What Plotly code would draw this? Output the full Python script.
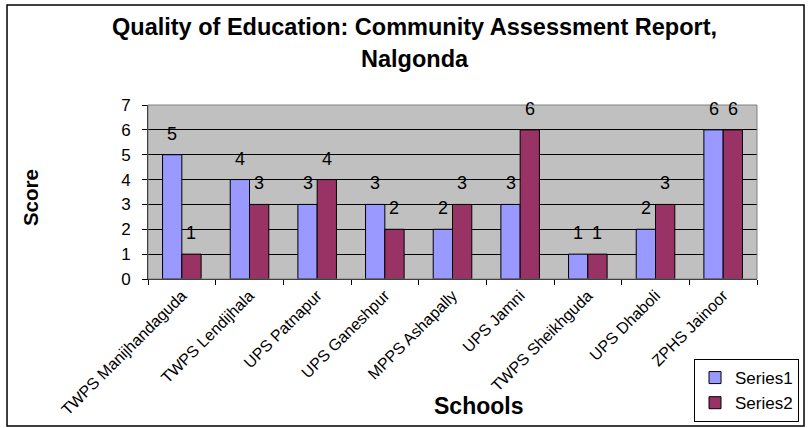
"""Quality of education scores for schools in Nalgonda, drawn as grouped bars
"""

import plotly.graph_objects as go

# x values: school names
schools = ['TWPS Manijhandaguda', 'TWPS Lendijhala', 'UPS Patnapur', 'UPS Ganeshpur',
           'MPPS Ashapally', 'UPS Jamni', 'TWPS Sheikhguda', 'UPS Dhaboli', 'ZPHS Jainoor']

# y values for each series
series1 = [5, 4, 3, 3, 2, 3, 1, 2, 6]
series2 = [1, 3, 4, 2, 3, 6, 1, 3, 6]

# y axis ticks
score_ticks = [0, 1, 2, 3, 4, 5, 6, 7]

FONT = 'Arial, Liberation Sans, sans-serif'

fig = go.Figure()

fig.add_trace(go.Bar(
    x=schools, y=series1, name='Series1',
    marker=dict(color='#9999FF', line=dict(color='black', width=1))
))
fig.add_trace(go.Bar(
    x=schools, y=series2, name='Series2',
    marker=dict(color='#993366', line=dict(color='black', width=1))
))

# data labels sit a little above each bar
annotations = []
for values, shift in ((series1, -9.6), (series2, 9.6)):
    for school, value in zip(schools, values):
        annotations.append(dict(
            x=school, y=value, xref='x', yref='y', text=str(value),
            showarrow=False, xshift=shift, yshift=21, yanchor='middle',
            font=dict(family=FONT, size=18, color='black')
        ))

# title, axis titles
annotations.append(dict(
    x=0.438, y=1.448, xref='paper', yref='paper', yanchor='middle',
    text='<b>Quality of Education: Community Assessment Report,</b>',
    showarrow=False, font=dict(family=FONT, size=23.5, color='black')
))
annotations.append(dict(
    x=0.438, y=1.264, xref='paper', yref='paper', yanchor='middle',
    text='<b>Nalgonda</b>', showarrow=False,
    font=dict(family=FONT, size=23.5, color='black')
))
annotations.append(dict(
    x=0.542, y=-0.73, xref='paper', yref='paper', yanchor='middle',
    text='<b>Schools</b>', showarrow=False,
    font=dict(family=FONT, size=23, color='black')
))
annotations.append(dict(
    x=-0.194, y=0.47, xref='paper', yref='paper', xanchor='center', yanchor='middle',
    text='<b>Score</b>', showarrow=False, textangle=-90,
    font=dict(family=FONT, size=20.5, color='black')
))

fig.update_layout(
    width=809, height=428,
    margin=dict(l=148, r=52, t=105, b=149, autoexpand=False),
    paper_bgcolor='white',
    plot_bgcolor='#C0C0C0',
    barmode='group', bargap=0.43, bargroupgap=0,
    font=dict(family=FONT, size=16, color='black'),
    showlegend=True,
    legend=dict(
        x=1.069, y=-0.46, xanchor='right', yanchor='top',
        bgcolor='white', bordercolor='black', borderwidth=1,
        itemwidth=30,
        font=dict(family=FONT, size=17, color='black'),
        traceorder='normal'
    ),
    annotations=annotations,
    shapes=[
        # plot area border
        dict(type='rect', xref='x domain', yref='y domain', x0=0, x1=1, y0=0, y1=1,
             line=dict(color='#808080', width=1), layer='above'),
        # chart border
        dict(type='rect', xref='paper', yref='paper',
             x0=-0.2315, x1=1.0772, y0=-0.845, y1=1.575,
             line=dict(color='black', width=1.5))
    ]
)

fig.update_xaxes(
    tickangle=-45, tickson='boundaries', ticks='outside', ticklen=5,
    tickcolor='black', showline=True, linecolor='black', linewidth=1,
    showgrid=False, automargin=False,
    tickfont=dict(family=FONT, size=16, color='black')
)
fig.update_yaxes(
    range=[0, 7], tickvals=score_ticks, ticks='outside', ticklen=5,
    tickcolor='black', showline=True, linecolor='black', linewidth=1,
    showgrid=True, gridcolor='black', gridwidth=1, zeroline=False,
    ticklabelstandoff=8, automargin=False,
    tickfont=dict(family=FONT, size=17, color='black')
)

# the page body has a default margin, drop it so the chart sits at the corner
fig.write_html('out.html', config={'displayModeBar': False},
               post_script="document.body.style.margin = '0';")
